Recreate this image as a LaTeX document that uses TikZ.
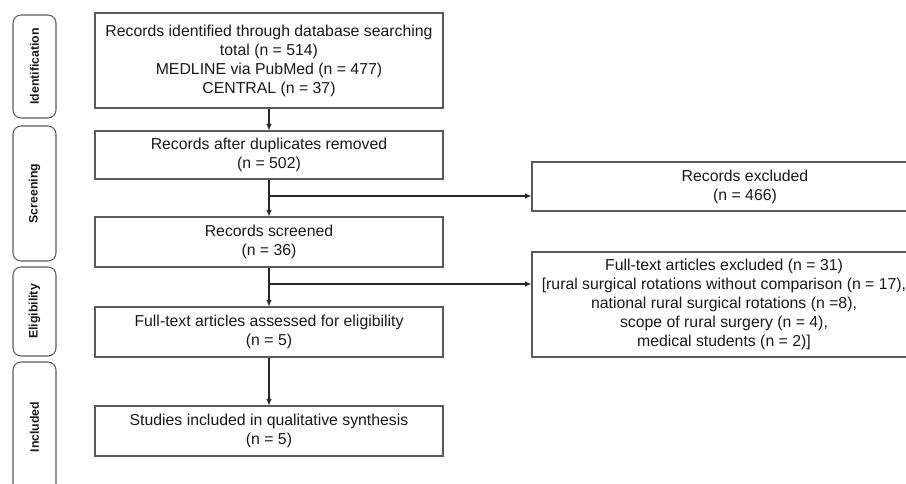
\documentclass[tikz,border=0pt]{standalone}
\usepackage{fontspec}
\setmainfont{Liberation Sans}
\usetikzlibrary{positioning, arrows.meta}
\definecolor{BoxColor}{RGB}{90,90,90}
\definecolor{TextColor}{RGB}{25,25,25}

\begin{document}
\begin{tikzpicture}[
  mainbox/.style={draw=BoxColor, line width=0.6pt, align=center, text=TextColor,
    inner sep=0pt, font=\fontsize{9}{10.8}\selectfont},
  sidebox/.style={draw=BoxColor, line width=0.6pt, rounded corners=0.16cm, rotate=90,
    minimum height=0.86cm, inner sep=0pt, text=TextColor, font=\fontsize{7}{8}\selectfont\bfseries},
  flow/.style={-{Latex[length=1.3mm, width=1.1mm]}, line width=0.6pt, draw=black!85}
]
  \useasboundingbox (0,0) rectangle (18.12,9.66);
  \clip (0,0) rectangle (18.12,9.66);
  % phase labels
  \node[sidebox, minimum width=2.06cm] (labident) at (0.69,8.33) {Identification};
  \node[sidebox, minimum width=2.70cm] (labscreen) at (0.69,5.79) {Screening};
  \node[sidebox, minimum width=1.78cm] (labelig) at (0.69,3.43) {Eligibility};
  \node[sidebox, minimum width=2.60cm] (labincl) at (0.69,1.12) {Included};
  % main column
  \node[mainbox, minimum width=6.96cm, minimum height=1.9cm] (records) at (5.38,8.45)
    {Records identified through database searching\\ total (n = 514)\\ MEDLINE via PubMed (n = 477)\\ CENTRAL (n = 37)};
  \node[mainbox, minimum width=6.96cm, minimum height=0.96cm] (dedup) at (5.38,6.56)
    {Records after duplicates removed\\ (n = 502)};
  \node[mainbox, minimum width=6.96cm, minimum height=1.0cm] (screened) at (5.38,4.82)
    {Records screened\\ (n = 36)};
  \node[mainbox, minimum width=6.96cm, minimum height=1.0cm] (fulltext) at (5.38,3.02)
    {Full-text articles assessed for eligibility\\ (n = 5)};
  \node[mainbox, minimum width=6.96cm, minimum height=1.0cm] (included) at (5.38,1.04)
    {Studies included in qualitative synthesis\\ (n = 5)};
  % exclusions
  \node[mainbox, minimum width=8.52cm, minimum height=0.98cm] (exclrec) at (14.90,5.93)
    {Records excluded\\ (n = 466)};
  \node[mainbox, minimum width=7.68cm, minimum height=2.1cm] (exclft) at (14.48,3.57)
    {Full-text articles excluded (n = 31)\\ {[}rural surgical rotations without comparison (n = 17),\\
     national rural surgical rotations (n =8),\\ scope of rural surgery (n = 4),\\ medical students (n = 2)]};
  % connectors
  \coordinate (branchA) at (5.38,5.74);
  \coordinate (branchB) at (5.38,3.98);
  \draw[flow] (records.south) -- (dedup.north);
  \draw[flow] (dedup.south) -- (screened.north);
  \draw[flow] (screened.south) -- (fulltext.north);
  \draw[flow] (fulltext.south) -- (included.north);
  \draw[flow] (branchA) -- (branchA -| exclrec.west);
  \draw[flow] (branchB) -- (branchB -| exclft.west);
\end{tikzpicture}
\end{document}
